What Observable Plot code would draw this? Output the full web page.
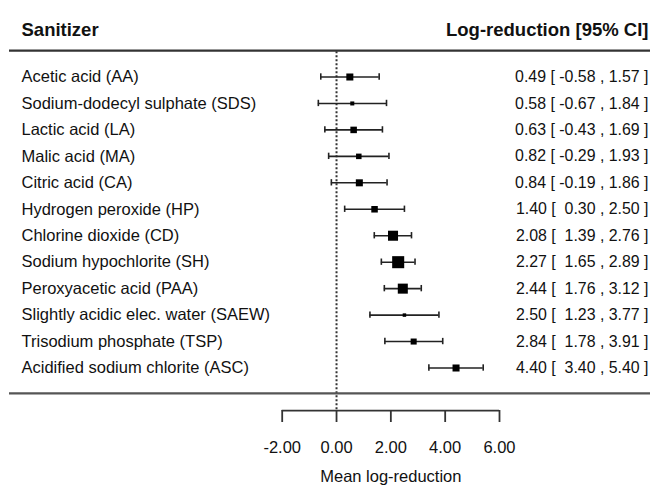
<!DOCTYPE html>
<html><head><meta charset="utf-8">
<script src="https://cdn.jsdelivr.net/npm/d3@7"></script>
<script src="https://cdn.jsdelivr.net/npm/@observablehq/plot@0.6"></script>
<style>
body{margin:0;background:#fff}
#chart svg{display:block}
</style>
</head><body><div id="chart"></div>
<script>
const sanitizers = [
  "Acetic acid (AA)",
  "Sodium-dodecyl sulphate (SDS)",
  "Lactic acid (LA)",
  "Malic acid (MA)",
  "Citric acid (CA)",
  "Hydrogen peroxide (HP)",
  "Chlorine dioxide (CD)",
  "Sodium hypochlorite (SH)",
  "Peroxyacetic acid (PAA)",
  "Slightly acidic elec. water (SAEW)",
  "Trisodium phosphate (TSP)",
  "Acidified sodium chlorite (ASC)"
];
const means = [0.49, 0.58, 0.63, 0.82, 0.84, 1.40, 2.08, 2.27, 2.44, 2.50, 2.84, 4.40];
const lower = [-0.58, -0.67, -0.43, -0.29, -0.19, 0.30, 1.39, 1.65, 1.76, 1.23, 1.78, 3.40];
const upper = [1.57, 1.84, 1.69, 1.93, 1.86, 2.50, 2.76, 2.89, 3.12, 3.77, 3.91, 5.40];
// relative weights (estimated from square sizes)
const weights = [7.3, 2.4, 6.3, 4.5, 7.3, 6.3, 14.9, 21.5, 14.9, 1.8, 5.4, 7.3];
const xTicks = [-2, 0, 2, 4, 6];
const headerLeft = "Sanitizer";
const headerRight = "Log-reduction [95% CI]";
const axisTitle = "Mean log-reduction";

const fmtCI = v => (v < 0 ? "" : " ") + v.toFixed(2);
const rows = sanitizers.map((s, i) => ({
  s, i, m: means[i], lo: lower[i], hi: upper[i], w: weights[i],
  txt: `${means[i].toFixed(2)} [ ${fmtCI(lower[i])} , ${upper[i].toFixed(2)} ]`
}));

const ink = "#111";
const cap = 0.12;

const chart = Plot.plot({
  width: 655, height: 490,
  marginTop: 0, marginRight: 0, marginBottom: 80, marginLeft: 0,
  style: {fontFamily: "'Liberation Sans', Arial, Helvetica, sans-serif", fontSize: "16.5px", color: ink, background: "#fff"},
  x: {domain: [-2, 6], range: [281.7, 499]},
  y: {domain: [0, 11], range: [76.5, 367.5], axis: null},
  r: {type: "sqrt", domain: [0, d3.max(weights)], range: [0, 6.8]},
  marks: [
    Plot.ruleX([0], {y1: -0.95, y2: 12.61, stroke: "#333", strokeWidth: 2, strokeDasharray: "2,2"}),
    Plot.ruleY([-1], {stroke: "#333", strokeWidth: 2.2, insetLeft: 9, insetRight: 5}),
    Plot.ruleY([11.96], {stroke: "#555", strokeWidth: 2.4, insetLeft: 9, insetRight: 5}),
    Plot.ruleY([12.61], {x1: xTicks[0], x2: xTicks[xTicks.length - 1], stroke: "#333", strokeWidth: 1.8}),
    Plot.axisX({ticks: xTicks, tickFormat: d => d.toFixed(2), tickSize: 12, tickPadding: 19, label: null, stroke: "#333", strokeWidth: 1.8, fontSize: 16.5, fill: ink}),
    Plot.ruleY(rows, {y: "i", x1: "lo", x2: "hi", stroke: "#222", strokeWidth: 1.6}),
    Plot.ruleX(rows, {x: "lo", y1: d => d.i - cap, y2: d => d.i + cap, stroke: "#222", strokeWidth: 1.6}),
    Plot.ruleX(rows, {x: "hi", y1: d => d.i - cap, y2: d => d.i + cap, stroke: "#222", strokeWidth: 1.6}),
    Plot.dot(rows, {x: "m", y: "i", r: "w", symbol: "square", fill: "#000", stroke: null}),
    Plot.text(rows, {y: "i", text: "s", frameAnchor: "left", dx: 21, textAnchor: "start", fill: ink}),
    Plot.text(rows, {y: "i", text: "txt", frameAnchor: "right", dx: -7, textAnchor: "end", fill: ink, fontSize: 15.9, style: "white-space: pre"}),
    Plot.text([headerLeft], {text: d => d, frameAnchor: "top-left", dx: 21, dy: 22, textAnchor: "start", fontWeight: "bold", fontSize: 18.5, fill: ink}),
    Plot.text([headerRight], {text: d => d, frameAnchor: "top-right", dx: -7, dy: 22, textAnchor: "end", fontWeight: "bold", fontSize: 18.5, fill: ink}),
    Plot.text([axisTitle], {text: d => d, x: d3.mean(xTicks), frameAnchor: "bottom", dy: 71, fill: ink})
  ]
});
document.getElementById("chart").appendChild(chart);
</script>
</body></html>
